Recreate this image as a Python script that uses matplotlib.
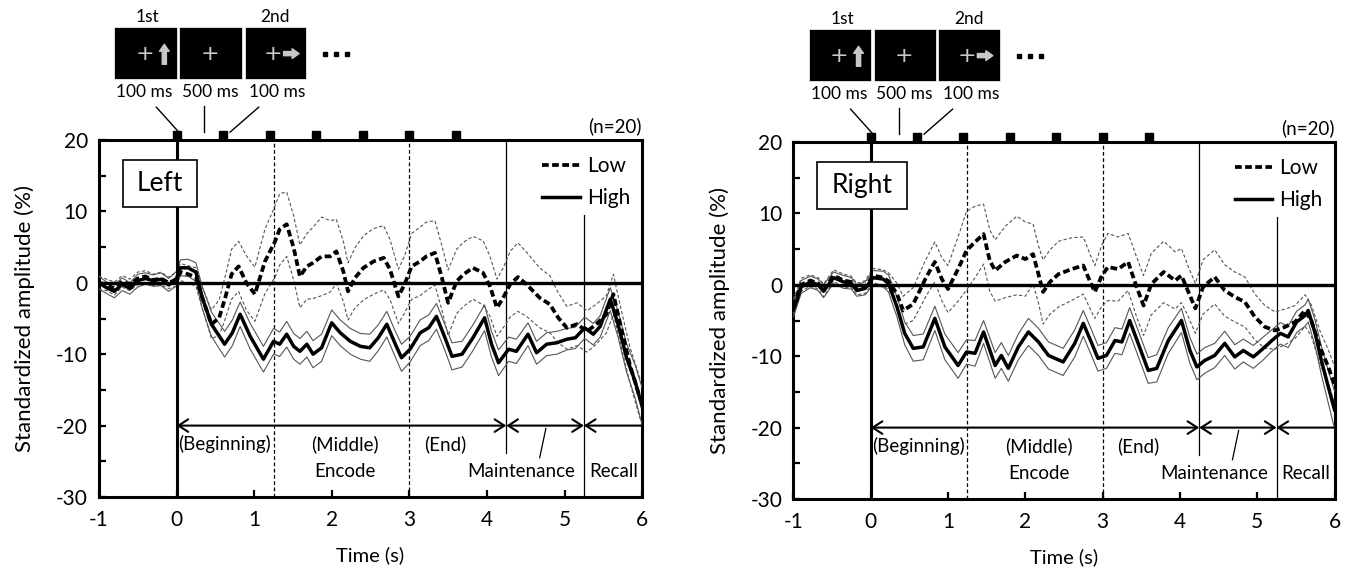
import numpy as np
import matplotlib
matplotlib.use("Agg")
import matplotlib.pyplot as plt
from matplotlib.patches import Rectangle

plt.rcParams['font.family'] = ['Lato', 'DejaVu Sans']
plt.rcParams['axes.unicode_minus'] = False

# ---------------- data ----------------
# Left hemisphere
left_low_t = [-1.0,-0.9,-0.8,-0.7,-0.6,-0.5,-0.4,-0.3,-0.2,-0.1,
              0.0,0.05,0.15,0.25,0.33,
              0.45,0.55,0.63,0.71,0.8,0.9,
              1.01,1.14,1.27,1.33,1.42,1.51,1.59,1.68,1.76,1.87,1.98,
              2.06,2.15,2.21,2.30,2.41,2.54,2.67,2.75,2.86,2.94,
              3.03,3.14,3.22,3.33,3.42,3.50,3.61,3.70,3.82,3.95,
              4.04,4.13,4.21,4.30,4.40,4.51,4.68,4.81,4.92,
              5.03,5.16,5.29,5.41,5.54,5.63,5.71,5.84,5.97,6.0]
left_low_mean = [0.0,-0.3,-0.8,0.2,-0.3,0.6,0.9,0.4,0.6,0.0,
                 0.5,1.5,1.2,0.8,-2.0,
                 -5.8,-4.9,-2.0,1.2,2.3,0.0,
                 -1.6,3.0,5.8,7.5,8.2,4.9,0.9,2.3,2.8,3.7,3.7,
                 4.4,1.6,-1.2,0.7,2.1,3.0,3.5,1.9,-1.9,-0.2,
                 2.3,3.0,3.7,4.2,0.7,-2.8,0.2,1.2,2.1,1.4,
                 -0.5,-3.5,-2.1,-0.2,0.8,-0.2,-2.1,-3.0,-4.9,
                 -6.3,-5.8,-6.8,-5.8,-4.4,-1.6,-5.4,-11.4,-16.1,-16.5]
left_low_ci = [0.9,0.8,0.9,0.8,0.8,0.9,0.8,0.8,0.9,0.8,
               1.0,1.2,1.2,1.3,1.5,
               2.0,2.5,3.0,3.5,3.5,3.8,
               3.8,4.5,5.0,5.0,4.5,4.5,4.4,4.6,5.0,5.5,5.0,
               4.5,4.2,4.0,4.2,4.5,4.6,4.5,4.2,3.8,4.0,
               4.6,4.8,4.8,4.5,4.5,4.6,4.5,4.5,4.4,4.5,
               4.2,4.0,4.2,4.6,4.8,4.5,4.2,4.0,3.5,
               3.0,3.0,2.9,2.8,2.6,2.8,2.6,2.5,2.8,3.0]

left_high_t = [-1.0,-0.9,-0.8,-0.7,-0.6,-0.5,-0.4,-0.3,-0.2,-0.1,
               0.0,0.05,0.15,0.25,0.33,
               0.45,0.62,0.72,0.82,0.95,
               1.12,1.25,1.33,1.42,1.51,1.59,1.68,1.76,1.87,
               2.0,2.11,2.24,2.37,2.49,2.60,2.71,2.82,2.90,
               3.01,3.14,3.25,3.35,3.46,3.55,3.68,3.82,3.97,
               4.06,4.15,4.28,4.38,4.53,4.64,4.77,4.90,
               5.03,5.14,5.26,5.37,5.46,5.59,5.69,5.80,5.91,6.0]
left_high_mean = [0.0,-0.7,-1.2,-0.2,-0.8,0.3,0.6,0.3,0.5,-0.3,
                  0.6,2.1,2.1,1.5,-2.0,
                  -5.8,-8.6,-7.0,-4.4,-7.5,
                  -10.7,-8.2,-8.6,-7.2,-8.9,-9.6,-8.6,-10.0,-9.1,
                  -5.6,-7.0,-8.2,-8.9,-9.1,-7.7,-5.8,-8.6,-10.5,
                  -9.3,-7.0,-6.3,-4.7,-7.7,-10.3,-10.0,-7.7,-4.9,
                  -8.6,-11.2,-9.3,-9.6,-7.2,-9.8,-8.6,-8.4,
                  -7.9,-7.7,-6.3,-7.2,-6.1,-2.3,-5.8,-10.5,-13.8,-17.3]
left_high_ci = [0.9,0.8,0.9,0.9,0.8,0.9,0.8,0.8,0.9,0.9,
                1.0,1.1,1.2,1.3,1.5,
                1.7,1.8,1.8,1.7,1.8,
                1.8,1.8,1.7,1.8,1.8,1.8,1.8,1.9,1.9,
                1.8,1.8,1.8,1.8,1.9,1.8,1.8,1.8,1.9,
                1.8,1.8,1.8,1.8,1.8,1.9,1.8,1.8,1.8,
                1.8,1.8,1.7,1.7,1.6,1.6,1.6,1.6,
                1.5,1.5,1.5,1.5,1.5,1.6,1.8,2.0,2.3,2.6]

# Right hemisphere
right_low_t = [-1.0,-0.95,-0.9,-0.78,-0.68,-0.61,-0.48,-0.35,-0.25,-0.18,-0.07,
               0.03,0.16,0.23,0.34,0.42,0.55,0.72,0.83,0.92,
               1.0,1.13,1.24,1.35,1.46,1.54,1.61,1.74,1.89,
               2.0,2.10,2.17,2.23,2.32,2.43,2.60,2.75,2.84,2.90,2.99,
               3.07,3.20,3.33,3.44,3.53,3.63,3.79,3.94,
               4.02,4.11,4.20,4.30,4.45,4.58,4.71,4.84,4.97,
               5.10,5.23,5.36,5.49,5.62,5.70,5.81,5.92,6.0]
right_low_mean = [-3.0,-1.5,0.0,0.6,0.2,-0.8,1.3,0.6,0.4,-0.6,-0.3,
                  1.3,1.0,0.5,-1.3,-3.6,-2.7,1.1,3.2,0.8,
                  -0.6,2.2,4.8,6.0,7.1,3.4,2.0,3.2,4.1,
                  3.6,4.3,1.5,-1.0,0.4,1.5,2.2,2.7,0.4,-1.0,1.3,
                  2.5,2.2,3.2,-0.3,-2.9,0.1,1.8,0.6,
                  1.3,-1.0,-3.3,-0.3,1.1,-0.8,-1.7,-2.4,-4.5,
                  -5.9,-6.4,-5.9,-5.2,-3.6,-5.0,-8.7,-11.5,-14.0]
right_low_ci = [1.0,0.9,0.9,0.8,0.8,0.9,0.8,0.9,0.8,0.8,0.9,
                1.0,1.1,1.2,1.5,2.0,2.3,2.6,2.8,3.0,
                3.3,4.5,5.5,5.0,4.2,4.3,4.3,5.0,5.5,
                5.2,4.2,4.0,4.5,4.5,4.6,4.4,4.0,3.8,3.7,4.3,
                4.7,4.5,4.0,4.2,4.2,4.3,4.3,4.0,
                3.8,3.5,3.5,3.8,3.8,3.6,3.5,3.5,3.2,
                3.0,2.6,2.5,2.3,2.2,2.2,2.3,2.4,2.6]

right_high_t = [-1.0,-0.95,-0.9,-0.78,-0.68,-0.61,-0.48,-0.35,-0.25,-0.18,-0.07,
                0.03,0.16,0.23,0.34,0.44,0.55,0.68,0.83,0.96,
                1.13,1.24,1.35,1.46,1.61,1.69,1.78,1.91,
                2.04,2.17,2.30,2.49,2.64,2.75,2.86,2.94,
                3.05,3.16,3.25,3.35,3.46,3.59,3.70,3.85,
                4.02,4.13,4.22,4.32,4.45,4.58,4.71,4.82,4.95,
                5.08,5.19,5.30,5.40,5.51,5.62,5.66,5.75,5.83,5.92,6.0]
right_high_mean = [-3.5,-2.0,-0.3,0.4,0.0,-0.9,1.0,0.4,0.2,-0.8,-0.5,
                   1.0,0.8,0.2,-3.1,-6.8,-8.9,-8.7,-4.7,-8.7,
                   -11.3,-9.4,-9.6,-6.6,-11.3,-9.9,-11.7,-8.7,
                   -6.6,-8.0,-9.9,-10.8,-8.2,-5.4,-8.2,-10.3,
                   -9.9,-7.8,-8.0,-5.0,-8.2,-12.0,-11.7,-7.8,
                   -5.0,-9.2,-11.5,-10.6,-9.9,-8.2,-10.1,-9.2,-10.1,
                   -8.9,-7.8,-6.8,-7.3,-5.2,-4.3,-3.6,-6.8,-10.6,-14.3,-17.5]
right_high_ci = [1.0,0.9,0.9,0.8,0.8,0.9,0.8,0.9,0.8,0.8,0.9,
                 1.0,1.1,1.2,1.4,1.6,1.8,1.8,1.7,1.8,
                 1.8,1.7,1.8,1.6,1.8,1.8,1.8,1.8,
                 1.9,1.9,1.9,1.9,1.9,1.8,1.8,1.8,
                 1.8,1.8,1.8,1.8,1.8,1.8,1.9,1.8,
                 1.7,1.8,1.8,1.8,1.7,1.7,1.7,1.6,1.6,
                 1.6,1.5,1.5,1.5,1.5,1.5,1.6,1.8,2.0,2.3,2.6]

stim_onsets = [0.0, 0.6, 1.2, 1.8, 2.4, 3.0, 3.6]
phase_bounds = [0.0, 1.25, 3.0, 4.25, 5.25, 6.0]
x_ticks = [-1, 0, 1, 2, 3, 4, 5, 6]
y_ticks = [-30, -20, -10, 0, 10, 20]
series_labels = ["Low", "High"]
panel_names = ["Left", "Right"]

# ---------------- figure ----------------
W, H = 1354, 577
fig = plt.figure(figsize=(W / 100, H / 100), dpi=100)

axL = fig.add_axes([98.9 / W, (577 - 497) / H, 543.2 / W, 357 / H])
axR = fig.add_axes([793.4 / W, (577 - 499) / H, 541.1 / W, 357 / H])

GRAY = '#555555'
FS = 13.5


def draw_panel(ax, name, lt, lm, lci, ht, hm, hci, box_right):
    lt, lm, lci = map(np.asarray, (lt, lm, lci))
    ht, hm, hci = map(np.asarray, (ht, hm, hci))
    ax.set_xlim(-1, 6)
    ax.set_ylim(-30, 20)

    # confidence bands
    ax.plot(lt, lm + lci, color=GRAY, lw=0.8, ls=(0, (3, 2)), zorder=3)
    ax.plot(lt, lm - lci, color=GRAY, lw=0.8, ls=(0, (3, 2)), zorder=3)
    ax.plot(ht, hm + hci, color=GRAY, lw=0.8, zorder=3)
    ax.plot(ht, hm - hci, color=GRAY, lw=0.8, zorder=3)
    # means
    l_low, = ax.plot(lt, lm, color='black', lw=2.7, ls=(0, (1.8, 0.9)),
                     zorder=5, label=series_labels[0])
    l_high, = ax.plot(ht, hm, color='black', lw=2.5, zorder=5,
                      label=series_labels[1])

    # reference lines
    ax.axhline(0, color='black', lw=2.4, zorder=4)
    ax.axvline(0, color='black', lw=2.2, zorder=4)
    ax.axvline(phase_bounds[1], color='black', lw=0.9, ls=(0, (3, 2)), zorder=2)
    ax.axvline(phase_bounds[2], color='black', lw=0.9, ls=(0, (3, 2)), zorder=2)
    ax.plot([phase_bounds[3]] * 2, [20, -23.9], color='black', lw=0.9, zorder=2)
    ax.plot([phase_bounds[4]] * 2, [9.5, -30], color='black', lw=0.9, zorder=2)

    # phase arrows
    ap = dict(arrowstyle='<->,head_length=0.7,head_width=0.45', lw=1.5,
              color='black', shrinkA=0, shrinkB=0)
    ax.annotate('', xy=(phase_bounds[3], -20), xytext=(phase_bounds[0], -20),
                arrowprops=ap, zorder=6)
    ax.annotate('', xy=(phase_bounds[4], -20), xytext=(phase_bounds[3], -20),
                arrowprops=ap, zorder=6)
    ap2 = dict(ap)
    ap2['arrowstyle'] = '<-,head_length=0.7,head_width=0.45'
    ax.annotate('', xy=(phase_bounds[5], -20), xytext=(phase_bounds[4], -20),
                arrowprops=ap2, zorder=6)

    ax.text(0.62, -22.6, '(Beginning)', ha='center', va='center', fontsize=FS)
    ax.text(2.17, -22.6, '(Middle)', ha='center', va='center', fontsize=FS)
    ax.text(3.46, -22.6, '(End)', ha='center', va='center', fontsize=FS)
    ax.text(2.17, -26.4, 'Encode', ha='center', va='center', fontsize=FS)
    ax.text(4.44, -26.4, 'Maintenance', ha='center', va='center', fontsize=FS)
    ax.text(5.63, -26.4, 'Recall', ha='center', va='center', fontsize=FS)
    ax.plot([4.68, 4.76], [-24.5, -20.4], color='black', lw=0.9)

    # name box
    ax.add_patch(Rectangle((-0.69, 10.6), box_right + 0.69, 6.6, fc='white',
                           ec='black', lw=1.2, zorder=7))
    ax.text((-0.69 + box_right) / 2, 13.9, name, ha='center', va='center',
            fontsize=19, zorder=8)

    # legend
    ax.legend(handles=[l_low, l_high], loc='upper right',
              bbox_to_anchor=(1.005, 0.995), frameon=False, fontsize=15,
              handlelength=1.8, handletextpad=0.35, labelspacing=0.55,
              borderaxespad=0.3)

    # stimulus markers above the frame
    ax.plot(stim_onsets, [20.65] * len(stim_onsets), ls='none', marker='s',
            ms=6.3, color='black', clip_on=False, zorder=9)
    ax.text(6.0, 22.0, '(n=20)', ha='right', va='center', fontsize=13.5)

    # stimulus pictures
    boxes = [(-0.80, 0.0), (0.038, 0.844), (0.877, 1.669)]
    for (a, b) in boxes:
        ax.add_patch(Rectangle((a, 28.5), b - a, 7.3, fc='black', ec='white',
                               lw=0.5, clip_on=False, zorder=9))
    for xc in (-0.405, 0.43, 1.24):
        ax.text(xc, 32.1, '+', color='#c8c8c8', fontsize=16, ha='center',
                va='center', clip_on=False, zorder=10, family='DejaVu Sans')
    ax.annotate('', xy=(-0.157, 33.4), xytext=(-0.157, 30.6),
                arrowprops=dict(arrowstyle='simple,head_length=0.5,head_width=0.7,tail_width=0.3',
                                color='#c8c8c8', shrinkA=0, shrinkB=0,
                                mutation_scale=10), annotation_clip=False, zorder=10)
    ax.annotate('', xy=(1.58, 32.1), xytext=(1.38, 32.1),
                arrowprops=dict(arrowstyle='simple,head_length=0.5,head_width=0.7,tail_width=0.3',
                                color='#c8c8c8', shrinkA=0, shrinkB=0,
                                mutation_scale=10), annotation_clip=False, zorder=10)
    ax.plot([1.92, 2.06, 2.20], [32.1] * 3, ls='none', marker='s', ms=3.2,
            color='black', clip_on=False)
    ax.text(-0.37, 37.2, '1st', ha='center', va='center', fontsize=12.5, clip_on=False)
    ax.text(1.27, 37.2, '2nd', ha='center', va='center', fontsize=12.5, clip_on=False)
    for xc, lab in zip((-0.41, 0.44, 1.30), ('100 ms', '500 ms', '100 ms')):
        ax.text(xc, 26.7, lab, ha='center', va='center', fontsize=12.5, clip_on=False)
    ax.plot([-0.26, 0.03], [24.6, 21.1], color='black', lw=1.0, clip_on=False)
    ax.plot([0.36, 0.36], [24.8, 21.1], color='black', lw=1.0, clip_on=False)
    ax.plot([1.06, 0.69], [24.6, 21.1], color='black', lw=1.0, clip_on=False)

    # axes styling
    for s in ax.spines.values():
        s.set_linewidth(2.2)
    ax.set_xticks(x_ticks)
    ax.set_yticks(y_ticks)
    ax.set_yticks([-25, -15, -5, 5, 15], minor=True)
    ax.tick_params(axis='both', which='both', direction='in', length=5,
                   width=1.6, labelsize=15, top=False, right=False)
    ax.tick_params(axis='x', pad=9)
    ax.tick_params(axis='y', pad=8)
    ax.set_xlabel('Time (s)', fontsize=14.5, labelpad=12)
    ax.set_ylabel('Standardized amplitude (%)', fontsize=16, labelpad=15)


draw_panel(axL, panel_names[0], left_low_t, left_low_mean, left_low_ci,
           left_high_t, left_high_mean, left_high_ci, 0.26)
draw_panel(axR, panel_names[1], right_low_t, right_low_mean, right_low_ci,
           right_high_t, right_high_mean, right_high_ci, 0.47)

fig.savefig('out.png', dpi=100)
